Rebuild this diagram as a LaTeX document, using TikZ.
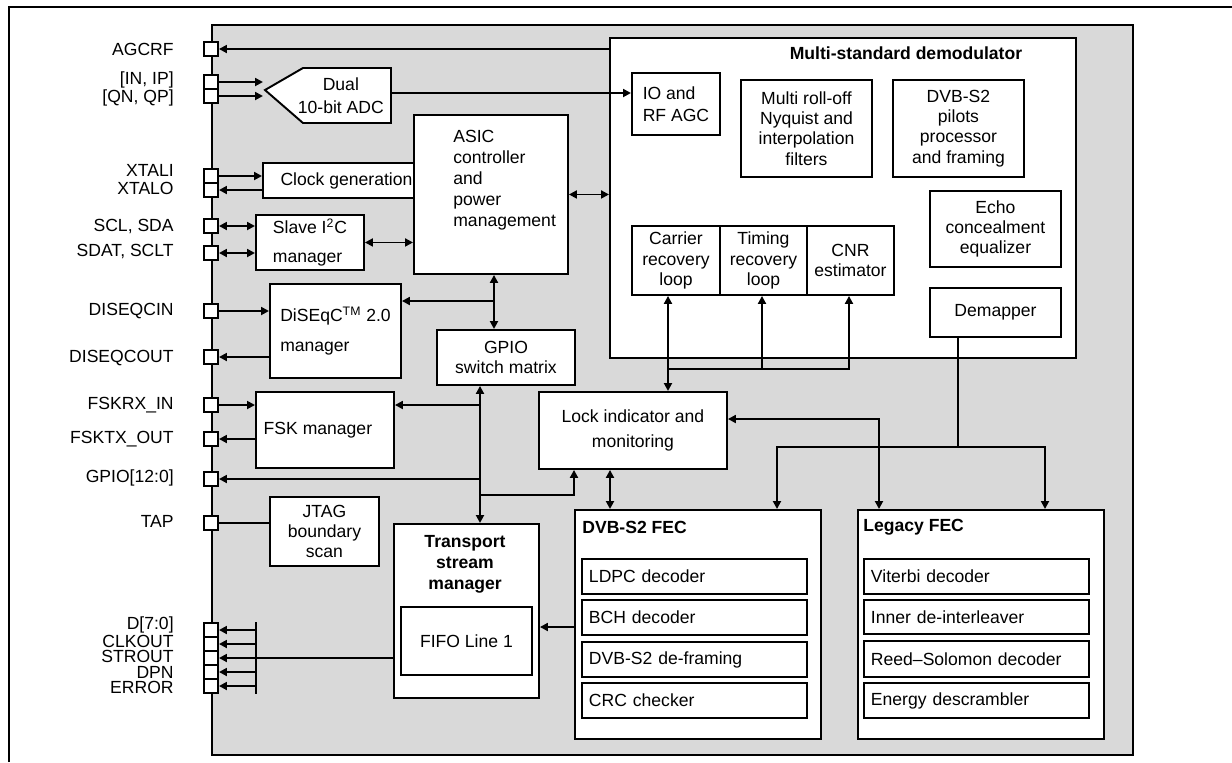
\documentclass[tikz,border=0pt]{standalone}
\usepackage{fontspec}
\setmainfont{Liberation Sans}
\usetikzlibrary{arrows.meta,positioning}
\definecolor{chipgray}{HTML}{D9D9D9}

\begin{document}
\begin{tikzpicture}[x=0.02cm, y=-0.02cm,
  font=\fontsize{10}{11.5}\selectfont,
  rect/.style n args={4}{anchor=north west, at={(#1,#2)},
                         minimum width={(#3-#1)*0.02cm}, minimum height={(#4-#2)*0.02cm}},
  blk/.style={draw, line width=1.1pt, fill=white, inner sep=0pt, align=center},
  sub/.style={blk, align=left, text width=4.22cm},
  pad/.style={draw, line width=1.1pt, fill=white, minimum size=0.28cm, inner sep=0pt},
  plbl/.style={anchor=east, inner sep=0pt},
  ttl/.style={font=\fontsize{10}{12}\selectfont\bfseries, inner sep=0pt, align=center},
  txt/.style={inner sep=0pt, align=left},
  ln/.style={line width=1.1pt},
  arr/.style={ln, -{Triangle[length=4.5pt,width=4.5pt]}},
  darr/.style={ln, {Triangle[length=4.5pt,width=4.5pt]}-{Triangle[length=4.5pt,width=4.5pt]}}
]
  \useasboundingbox (0,0) rectangle (1232,762);
  \draw[ln] (9,762) -- (9,7) -- (1232,7);
  \node[blk, fill=chipgray, rect={211}{24}{1132}{754}] (chip) {};

  % pins and pin names
  \foreach \n/\yy in {pagc/49, pip/82, pqp/96, pxi/176, pxo/190, pscl/226,
      psdat/253, pdin/311, pdout/357, prx/405, ptx/439, pgpio/479, ptap/523,
      pd0/630, pd1/644, pd2/658, pd3/672, pd4/686}
    \node[pad] (\n) at (211,\yy) {};
  \foreach \n/\yy/\t in {lagc/49/AGCRF, lip/80/{[IN, IP]}, lqp/98/{[QN, QP]},
      lxi/170/XTALI, lxo/188/XTALO, lscl/226/{SCL, SDA}, lsdat/251/{SDAT, SCLT},
      ldin/311/DISEQCIN, ldout/358/DISEQCOUT, lrx/405/FSKRX\_IN,
      ltx/439/FSKTX\_OUT, lgpio/478/{GPIO[12:0]}, ltap/521/TAP,
      ld0/625/{D[7:0]}, ld1/641/CLKOUT, ld2/656/STROUT, ld3/672/DPN, ld4/687/ERROR}
    \node[plbl] (\n) at (174,\yy) {\t};

  % left column
  \draw[ln, fill=white] (265,90) -- (303,68) -- (391,68) -- (391,123) -- (303,123) -- cycle;
  \node[txt, align=center, rect={290}{68}{391}{123}] (adc) {Dual\\[2pt]10-bit ADC};
  \coordinate (adctip) at (263,90);
  \node[blk, rect={262}{162}{429}{197}] (clk) {Clock generation};
  \node[blk, align=left, rect={255}{214}{363}{269}] (i2c) {Slave I\textsuperscript{2}C\\[5pt]manager};
  \node[blk, align=left, rect={269}{283}{400}{377}] (diseqc) {DiSEqC\textsuperscript{TM} 2.0\\[5.5pt]manager};
  \node[blk, rect={255}{391}{393}{467}] (fsk) {FSK manager\hspace*{8pt}};
  \node[blk, rect={269}{496}{378}{565}] (jtag) {JTAG\\boundary\\scan};

  % controller
  \node[blk, rect={413}{114}{567}{273}] (asic) {};
  \node[txt, anchor=north west, font=\fontsize{10}{12}\selectfont] (asictxt) at (453,130)
    {ASIC\\controller\\and\\power\\management};
  \node[blk, rect={436}{329}{574}{384}] (gsw) {GPIO\\switch matrix};
  \node[blk, rect={538}{391}{726}{468}] (lock) {Lock indicator and\\[3pt]monitoring};
  \node[blk, rect={393}{523}{538}{697}] (tsm) {};
  \node[ttl, anchor=north] (tsmttl) at (465,535) {Transport\\stream\\manager};
  \node[blk, rect={400}{606}{531}{674}] (fifo) {FIFO Line 1};

  % demodulator
  \node[blk, rect={609}{37}{1075}{357}] (demod) {};
  \node[ttl] (demodttl) at (906,53) {Multi-standard demodulator};
  \node[blk, align=left, rect={631}{72}{719}{134}] (io) {IO and\\[1pt]RF AGC};
  \node[blk, rect={740}{79}{871}{176}] (nyq) {Multi roll-off\\Nyquist and\\interpolation\\filters};
  \node[blk, rect={892}{79}{1023}{176}] (pil) {DVB-S2\\pilots\\processor\\and framing};
  \node[blk, rect={929}{190}{1060}{266}] (echo) {Echo\\concealment\\equalizer};
  \node[blk, rect={929}{287}{1060}{336}] (demap) {Demapper};
  \node[blk, rect={631}{225}{719}{294}] (carr) {Carrier\\recovery\\loop};
  \node[blk, rect={719}{225}{806}{294}] (timg) {Timing\\recovery\\loop};
  \node[blk, rect={806}{225}{893}{294}] (cnr) {CNR\\estimator};

  % FEC
  \node[blk, rect={574}{509}{820}{738}] (s2fec) {};
  \node[ttl, anchor=west] (s2ttl) at (582,527) {DVB-S2 FEC};
  \node[sub, rect={581}{558}{806}{593}] (ldpc) {LDPC decoder};
  \node[sub, rect={581}{599}{806}{634}] (bch) {BCH decoder};
  \node[sub, rect={581}{641}{806}{676}] (defr) {DVB-S2 de-framing};
  \node[sub, rect={581}{682}{806}{717}] (crc) {CRC checker};
  \node[blk, rect={857}{509}{1103}{738}] (legfec) {};
  \node[ttl, anchor=west] (legttl) at (863,527) {Legacy FEC};
  \node[sub, rect={863}{558}{1088}{593}] (vit) {Viterbi decoder};
  \node[sub, rect={863}{599}{1088}{633}] (deint) {Inner de-interleaver};
  \node[sub, rect={863}{640}{1088}{676}] (rs) {Reed--Solomon decoder};
  \node[sub, rect={863}{682}{1088}{717}] (escr) {Energy descrambler};

  \coordinate (gbus) at (494,301);
  \coordinate (vbus) at (480,405);
  \coordinate (lk) at (574,495);
  \coordinate (lf) at (610,490);
  \coordinate (cb) at (668,369);
  \coordinate (ct) at (762,369);
  \coordinate (cn) at (849,369);
  \coordinate (dm) at (958,447);
  \coordinate (dl) at (777,447);
  \coordinate (dr) at (1045,447);
  \coordinate (ll) at (879,419);
  \coordinate (tf) at (556,627);
  \coordinate (dbar) at (256,658);

  \draw[arr] (demod.west |- pagc) -- (pagc.east);
  \draw[arr] (pip.east) -- (pip.east -| adctip);
  \draw[arr] (pqp.east) -- (pqp.east -| adctip);
  \draw[arr] (adc.east |- 0,93) -- (io.west |- 0,93);
  \draw[arr] (pxi.east) -- (pxi.east -| clk.west);
  \draw[arr] (pxo.east -| clk.west) -- (pxo.east);
  \draw[darr] (pscl.east) -- (pscl.east -| i2c.west);
  \draw[darr] (psdat.east) -- (psdat.east -| i2c.west);
  \draw[darr] (i2c.east) -- (i2c.east -| asic.west);
  \draw[darr] (asic.east) -- (asic.east -| demod.west);
  \draw[arr] (pdin.east) -- (pdin.east -| diseqc.west);
  \draw[arr] (pdout.east -| diseqc.west) -- (pdout.east);
  \draw[arr] (prx.east) -- (prx.east -| fsk.west);
  \draw[arr] (ptx.east -| fsk.west) -- (ptx.east);
  \draw[ln] (ptap.east) -- (ptap.east -| jtag.west);
  \draw[darr] (gbus |- asic.south) -- (gbus |- gsw.north);
  \draw[arr] (gbus) -- (gbus -| diseqc.east);
  \draw[darr] (vbus |- gsw.south) -- (vbus |- tsm.north);
  \draw[arr] (vbus) -- (vbus -| fsk.east);
  \draw[arr] (vbus |- pgpio) -- (pgpio.east);
  \draw[arr] (vbus |- lk) -- (lk) -- (lk |- lock.south);
  \draw[darr] (lf |- lock.south) -- (lf |- s2fec.north);
  \draw[darr] (cb |- carr.south) -- (cb |- lock.north);
  \draw[arr] (cb) -- (cn) -- (cn |- cnr.south);
  \draw[arr] (ct) -- (ct |- timg.south);
  \draw[ln] (dm |- demap.south) -- (dm);
  \draw[arr] (dm) -| (dl |- s2fec.north);
  \draw[arr] (dm) -| (dr |- legfec.north);
  \draw[darr] (lock.east |- ll) -- (ll) -- (ll |- legfec.north);
  \draw[arr] (s2fec.west |- tf) -- (tsm.east |- tf);
  \draw[ln] (dbar |- pd0.north) -- (dbar |- pd4.south);
  \foreach \i in {0,...,4}
    \draw[arr] (dbar |- pd\i) -- (pd\i.east);
  \draw[ln] (tsm.west |- pd2) -- (dbar |- pd2);
\end{tikzpicture}
\end{document}
